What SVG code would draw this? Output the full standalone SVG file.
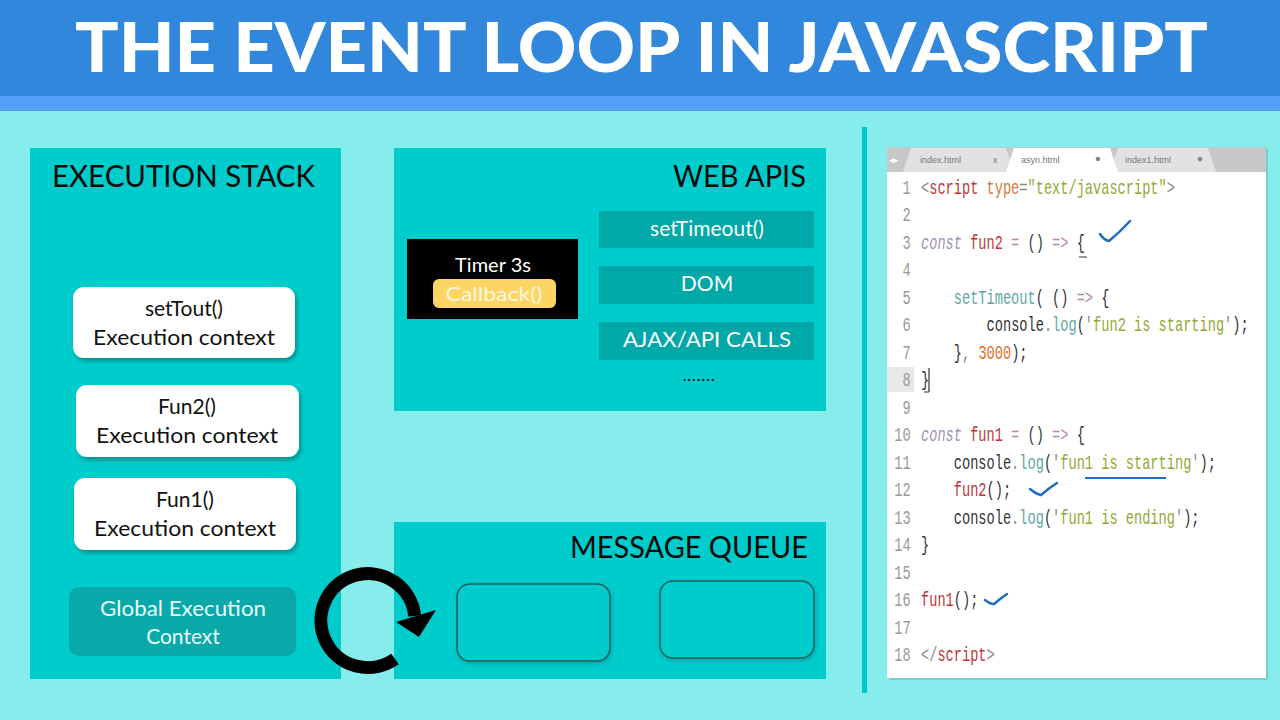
<svg xmlns="http://www.w3.org/2000/svg" width="1280" height="720" viewBox="0 0 1280 720">
<defs>
<style>
.lbl{font-family:Lato,"Open Sans","Liberation Sans",sans-serif;}
.ttl{font-family:Lato,"Open Sans","Liberation Sans",sans-serif;font-size:30px;fill:#0a0a0a;}
.ctx{font-family:Lato,"Open Sans","Liberation Sans",sans-serif;font-size:21px;fill:#111;text-anchor:middle;}
.bar{fill:#00A8A8;}
.bartxt{font-family:Lato,"Open Sans","Liberation Sans",sans-serif;font-size:21px;fill:#fff;text-anchor:middle;}
.code{font-family:"Liberation Mono","DejaVu Sans Mono",monospace;font-size:20px;fill:#333;}
.ln{fill:#9a9a9a;text-anchor:end;}
.g{fill:#8a8a8a;}
.r{fill:#C0353A;}
.o{fill:#D07A3A;}
.s{fill:#8FAA35;}
.k{fill:#A48FB5;font-style:italic;}
.p{fill:#B888A8;}
.t{fill:#5EA8A0;}
.n{fill:#E0702A;}
.chk{fill:none;stroke:#1F6CC4;stroke-width:2.5;stroke-linecap:round;stroke-linejoin:round;}
.tab{font-family:"Liberation Sans",sans-serif;font-size:9px;fill:#777;}
</style>
<filter id="sh" x="-10%" y="-10%" width="130%" height="140%">
<feDropShadow dx="2" dy="3" stdDeviation="2" flood-color="#000" flood-opacity="0.3"/>
</filter>
<filter id="sh2" x="-10%" y="-10%" width="130%" height="140%">
<feDropShadow dx="1" dy="2" stdDeviation="2" flood-color="#000" flood-opacity="0.2"/>
</filter>
</defs>

<!-- background -->
<rect x="0" y="0" width="1280" height="720" fill="#86ECEC"/>
<rect x="0" y="0" width="1280" height="96" fill="#3187DC"/>
<rect x="0" y="96" width="1280" height="15" fill="#54A0FA"/>
<text x="75" y="72" font-family="Lato,'Liberation Sans',sans-serif" font-weight="900" font-size="68" fill="#fff" textLength="1133" lengthAdjust="spacingAndGlyphs">THE EVENT LOOP IN JAVASCRIPT</text>

<!-- divider -->
<rect x="862" y="127" width="5" height="566" fill="#00C8C8"/>

<!-- Execution stack -->
<g id="execution-stack">
<rect x="30" y="148" width="311" height="531" fill="#00CCCC"/>
<text class="ttl" x="52" y="187" textLength="263" lengthAdjust="spacingAndGlyphs">EXECUTION STACK</text>
</g>
<g id="settout-ctx">
<rect x="73" y="287" width="222" height="71" rx="11" fill="#fff" filter="url(#sh)"/>
<text class="ctx" x="184" y="316">setTout()</text>
<text class="ctx" x="184" y="345" textLength="182" lengthAdjust="spacingAndGlyphs">Execution context</text>
</g>
<g id="fun2-ctx">
<rect x="76" y="385" width="223" height="72" rx="11" fill="#fff" filter="url(#sh)"/>
<text class="ctx" x="187" y="414">Fun2()</text>
<text class="ctx" x="187" y="443" textLength="182" lengthAdjust="spacingAndGlyphs">Execution context</text>
</g>
<g id="fun1-ctx">
<rect x="74" y="478" width="222" height="72" rx="11" fill="#fff" filter="url(#sh)"/>
<text class="ctx" x="185" y="507">Fun1()</text>
<text class="ctx" x="185" y="536" textLength="182" lengthAdjust="spacingAndGlyphs">Execution context</text>
</g>
<g id="global-ctx">
<rect x="69" y="587" width="227" height="69" rx="10" fill="#0AA8A8"/>
<text class="ctx" x="183" y="616" style="fill:#E6FFFF" textLength="166" lengthAdjust="spacingAndGlyphs">Global Execution</text>
<text class="ctx" x="183" y="644" style="fill:#E6FFFF">Context</text>
</g>

<!-- Web APIs -->
<g id="web-apis">
<rect x="394" y="148" width="432" height="263" fill="#00CCCC"/>
<text class="ttl" x="806" y="187" text-anchor="end" textLength="133" lengthAdjust="spacingAndGlyphs">WEB APIS</text>
</g>
<g id="timer">
<rect x="407" y="239" width="171" height="80" fill="#000"/>
<text class="lbl" x="493" y="272" font-size="20" fill="#fff" text-anchor="middle">Timer 3s</text>
<rect x="433" y="279" width="123" height="29" rx="6" fill="#FCD565"/>
<text class="lbl" x="494" y="301" font-size="20" fill="#FFF8E0" text-anchor="middle" textLength="97" lengthAdjust="spacingAndGlyphs">Callback()</text>
</g>
<g id="api-settimeout">
<rect class="bar" x="599" y="211" width="215" height="37"/>
<text class="bartxt" x="707" y="236">setTimeout()</text>
</g>
<g id="api-dom">
<rect class="bar" x="599" y="266" width="215" height="38"/>
<text class="bartxt" x="707" y="291">DOM</text>
</g>
<g id="api-ajax">
<rect class="bar" x="599" y="322" width="215" height="38"/>
<text class="bartxt" x="707" y="347" textLength="168" lengthAdjust="spacingAndGlyphs">AJAX/API CALLS</text>
</g>
<text class="lbl" x="699" y="381" font-size="18" fill="#111" text-anchor="middle" letter-spacing="0.5">.......</text>

<!-- Message queue -->
<g id="message-queue">
<rect x="394" y="522" width="432" height="157" fill="#00CCCC"/>
<text class="ttl" x="808" y="558" text-anchor="end" textLength="238" lengthAdjust="spacingAndGlyphs">MESSAGE QUEUE</text>
</g>
<g id="queue-slot-1">
<rect x="457" y="584" width="153" height="77" rx="13" fill="#00CCCC" stroke="#1F5F5F" stroke-width="1.5" filter="url(#sh2)"/>
</g>
<g id="queue-slot-2">
<rect x="660" y="581" width="154" height="77" rx="13" fill="#00CCCC" stroke="#1F5F5F" stroke-width="1.5" filter="url(#sh2)"/>
</g>

<!-- connectors -->
<g id="connectors">
<path d="M 395 659 A 47 47 0 1 1 414.7 616" fill="none" stroke="#000" stroke-width="13"/>
<polygon points="396,622 436,610 419,637" fill="#000"/>
</g>

<!-- code editor -->
<g id="code-editor">
<rect x="889" y="149" width="379" height="531" fill="#000" opacity="0.12"/>
<rect x="887" y="147" width="379" height="531" fill="#fff"/>
<rect x="887" y="147" width="379" height="25" fill="#C8C8C8"/>
<text x="889" y="163" font-family="'DejaVu Sans',sans-serif" font-size="9" fill="#fff">◂▸</text>
<path d="M 903 172 L 911 148 L 1006 148 L 1014 172 Z" fill="#E2E2E2"/>
<path d="M 1110 172 L 1118 148 L 1208 148 L 1216 172 Z" fill="#E2E2E2"/>
<path d="M 1006 172 L 1014 148 L 1110 148 L 1118 172 Z" fill="#fff"/>
<text class="tab" x="920" y="163">index.html</text>
<text class="tab" x="993" y="163">x</text>
<text class="tab" x="1021" y="163">asyn.html</text>
<circle cx="1098" cy="159" r="2.3" fill="#888"/>
<text class="tab" x="1125" y="163">index1.html</text>
<circle cx="1200" cy="159" r="2.3" fill="#888"/>
<rect x="887" y="367" width="27" height="25" fill="#E8E8E8"/>
<g transform="translate(921,0) scale(0.683,1)">
<text class="code ln" x="-15" y="194">1</text>
<text class="code ln" x="-15" y="221.5">2</text>
<text class="code ln" x="-15" y="249">3</text>
<text class="code ln" x="-15" y="276.5">4</text>
<text class="code ln" x="-15" y="304">5</text>
<text class="code ln" x="-15" y="331.5">6</text>
<text class="code ln" x="-15" y="359">7</text>
<text class="code ln" x="-15" y="386.5">8</text>
<text class="code ln" x="-15" y="414">9</text>
<text class="code ln" x="-15" y="441.5">10</text>
<text class="code ln" x="-15" y="469">11</text>
<text class="code ln" x="-15" y="496.5">12</text>
<text class="code ln" x="-15" y="524">13</text>
<text class="code ln" x="-15" y="551.5">14</text>
<text class="code ln" x="-15" y="579">15</text>
<text class="code ln" x="-15" y="606.5">16</text>
<text class="code ln" x="-15" y="634">17</text>
<text class="code ln" x="-15" y="661.5">18</text>

<text class="code" x="0" y="194"><tspan class="g">&lt;</tspan><tspan class="r">script</tspan> <tspan class="o">type</tspan><tspan class="g">=</tspan><tspan class="s">"text/javascript"</tspan><tspan class="g">&gt;</tspan></text>
<text class="code" x="0" y="249"><tspan class="k">const</tspan> <tspan class="r">fun2</tspan> <tspan class="p">=</tspan> () <tspan class="p">=&gt;</tspan> {</text>
<text class="code" x="48" y="304"><tspan class="t">setTimeout</tspan>( () <tspan class="p">=&gt;</tspan> {</text>
<text class="code" x="96" y="331.5">console<tspan class="g">.</tspan><tspan class="t">log</tspan>(<tspan class="g">'</tspan><tspan class="s">fun2 is starting</tspan><tspan class="g">'</tspan>);</text>
<text class="code" x="48" y="359">}<tspan class="g">,</tspan> <tspan class="n">3000</tspan>);</text>
<text class="code" x="0" y="386.5">}</text>
<text class="code" x="0" y="441.5"><tspan class="k">const</tspan> <tspan class="r">fun1</tspan> <tspan class="p">=</tspan> () <tspan class="p">=&gt;</tspan> {</text>
<text class="code" x="48" y="469">console<tspan class="g">.</tspan><tspan class="t">log</tspan>(<tspan class="g">'</tspan><tspan class="s">fun1 is starting</tspan><tspan class="g">'</tspan>);</text>
<text class="code" x="48" y="496.5"><tspan class="r">fun2</tspan>();</text>
<text class="code" x="48" y="524">console<tspan class="g">.</tspan><tspan class="t">log</tspan>(<tspan class="g">'</tspan><tspan class="s">fun1 is ending</tspan><tspan class="g">'</tspan>);</text>
<text class="code" x="0" y="551.5">}</text>
<text class="code" x="0" y="606.5"><tspan class="r">fun1</tspan>();</text>
<text class="code" x="0" y="661.5"><tspan class="g">&lt;/</tspan><tspan class="r">script</tspan><tspan class="g">&gt;</tspan></text>
</g>
<line x1="1079" y1="257" x2="1087" y2="257" stroke="#333" stroke-width="1"/>
<line x1="929" y1="368" x2="929" y2="392" stroke="#333" stroke-width="1.2"/>
<line x1="924" y1="392" x2="929" y2="392" stroke="#333" stroke-width="1"/>
<path class="chk" d="M 1100 234 Q 1104 240 1109 241 Q 1120 232 1130 221"/>
<path class="chk" d="M 1030 489 Q 1036 494 1041 495 Q 1049 488 1057 483"/>
<path class="chk" d="M 985 600 Q 990 604 994 604 Q 1001 598 1007 594"/>
<line x1="1085" y1="478" x2="1166" y2="478" stroke="#1F6CC4" stroke-width="2"/>
</g>
</svg>
